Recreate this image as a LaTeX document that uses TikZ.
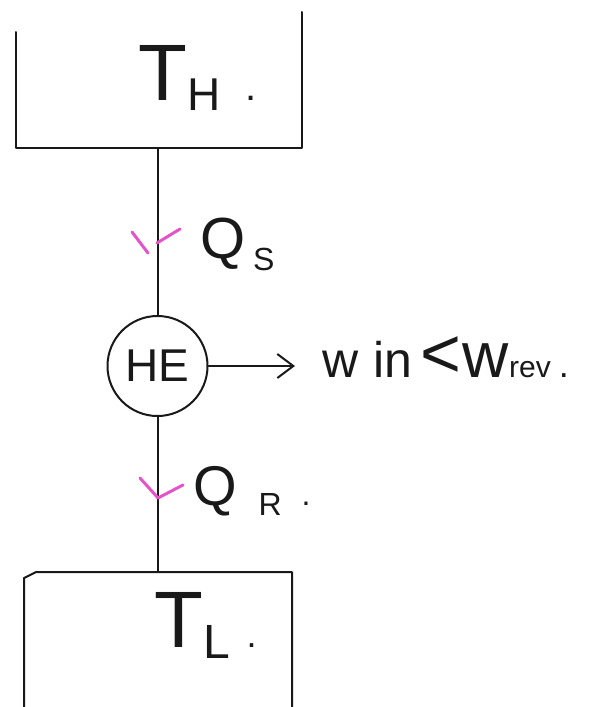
\documentclass[tikz,border=0pt]{standalone}
\usepackage{fontspec}
\setmainfont{Liberation Sans}
\usetikzlibrary{arrows.meta}
\newcommand{\fsz}[1]{\fontsize{#1}{#1}\selectfont}
\definecolor{pinkmark}{RGB}{228,84,200}
\definecolor{ink}{RGB}{25,25,25}
\begin{document}
\begin{tikzpicture}[x=1pt,y=-1pt, line width=2pt, line cap=round, line join=round,
  inkline/.style={draw=ink},
  pinktick/.style={draw=pinkmark, line width=3pt},
  lbl/.style={anchor=base west, inner sep=0pt, outer sep=0pt, text=ink},
  engine/.style={circle, draw=ink, minimum size=100pt, inner sep=0pt, text=ink}]
\useasboundingbox (0,0) rectangle (600,707);
% hot reservoir (open at top)
\node[minimum width=286pt, minimum height=136pt, inner sep=0pt] (hot) at (159,80) {};
\draw[inkline] (16,32) -- (16,148) -- (302,148) -- (302,12);
\node[lbl] (th) at (138,100) {\fsz{80}T\hspace{1pt}\raisebox{-10pt}{\fsz{46}H}\hspace{24pt}\fsz{40}.};
% engine
\node[engine] (he) at (157.5,366) {\fsz{46}HE};
% cold reservoir (open at bottom)
\node[minimum width=269pt, minimum height=135pt, inner sep=0pt] (cold) at (157.5,639.5) {};
\draw[inkline] (24,707) -- (24,578) -- (36,572) -- (292,572) -- (292,707);
\node[lbl] (tl) at (154,647) {\fsz{80}T\hspace{1pt}\raisebox{-11pt}{\fsz{48}L}\hspace{16pt}\fsz{36}.};
% connectors
\draw[inkline] (he.north |- hot.south) -- (he.north);
\draw[inkline] (he.south) -- (he.south |- cold.north);
% heat labels
\node[lbl] (qs) at (200,258) {\fsz{58}Q\hspace{8pt}\raisebox{-12pt}{\fsz{32}S}};
\node[lbl] (qr) at (193,505) {\fsz{56}Q\hspace{22pt}\raisebox{-10pt}{\fsz{32}R}\hspace{20pt}\fsz{32}.};
% pink direction marks
\draw[pinktick] (132,232) -- (148,253);
\draw[pinktick] (157,243) -- (180,229);
\draw[pinktick] (140,478) -- (158,498) -- (183,485);
% work output
\node[lbl] (work) at (322,377) {\fsz{50}w\hspace{15pt}in\hspace{8pt}\fsz{70}<\hspace{2pt}\fsz{64}w\fsz{30}rev\hspace{8pt}\fsz{36}.};
\coordinate (wtip) at (295,366);
\draw[inkline, -{Straight Barb[length=16pt,width=24pt]}] (he.east) -- (wtip);
\end{tikzpicture}
\end{document}
